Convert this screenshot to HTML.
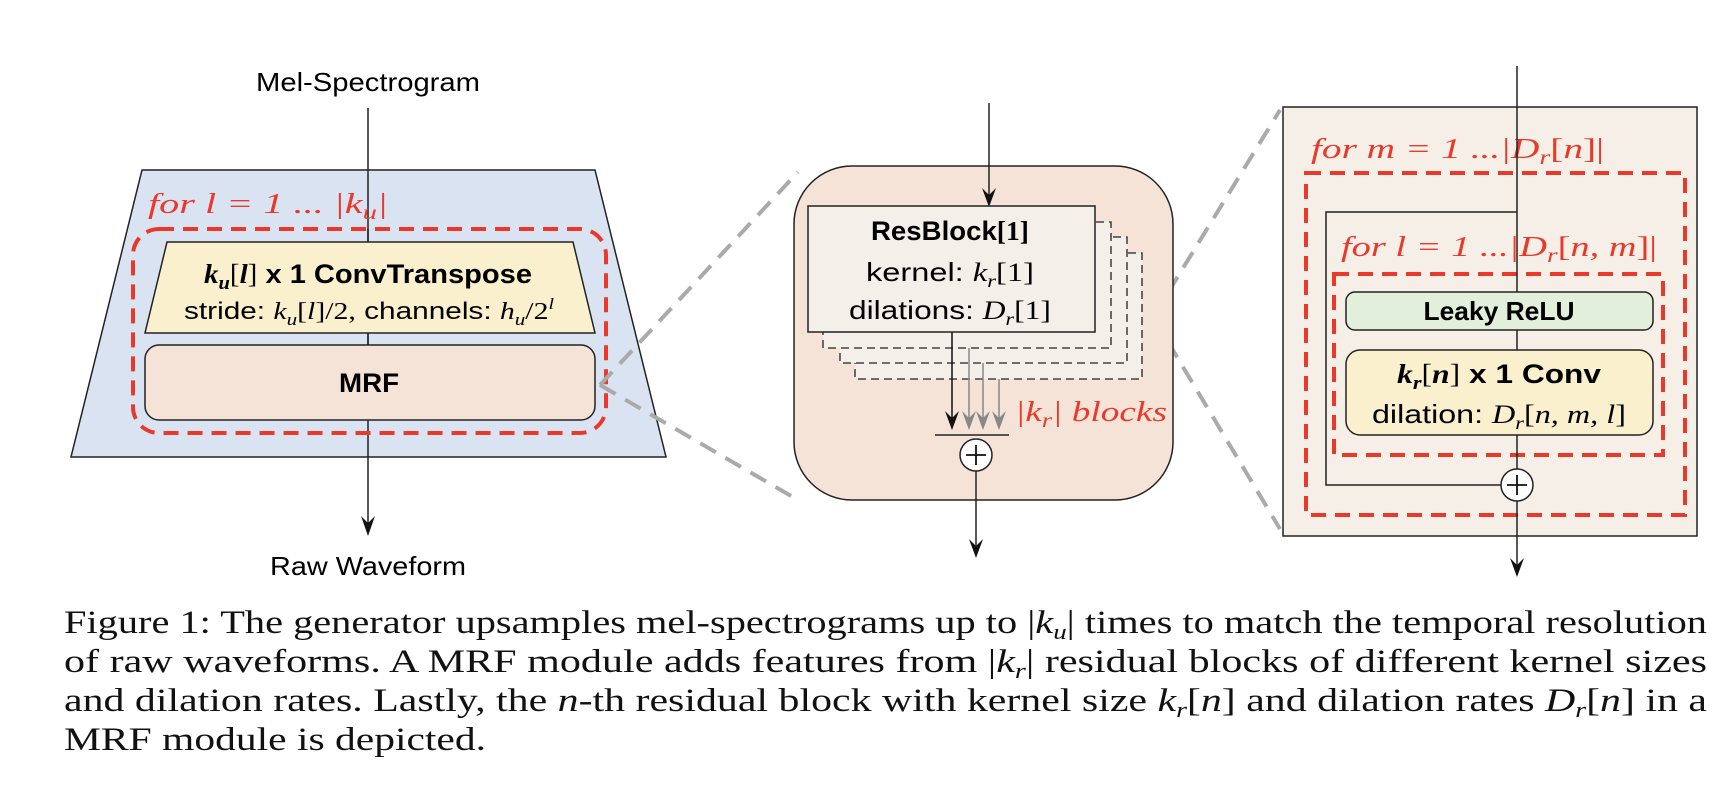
<!DOCTYPE html>
<html><head><meta charset="utf-8"><style>
html,body{margin:0;padding:0;background:#fff;}
svg{display:block;}
.s{font-family:"Liberation Sans",sans-serif;}
.m{font-family:"Liberation Serif",serif;font-style:italic;}
.r{font-family:"Liberation Serif",serif;}
</style></head><body>
<svg width="1732" height="792" viewBox="0 0 1732 792" xmlns="http://www.w3.org/2000/svg">
<defs>
<marker id="ab" viewBox="0 0 12 14" refX="6" refY="13" markerWidth="12" markerHeight="14" markerUnits="userSpaceOnUse" orient="auto-start-reverse">
</marker>
</defs>
<!-- LEFT PANEL -->
<polygon points="142,170 595,170 666,457 71,457" fill="#dae3f1" stroke="#222" stroke-width="1.5"/>
<line x1="368" y1="108" x2="368" y2="530" stroke="#222" stroke-width="1.5"/>
<path d="M361,516 L368,536 L375,516 L368,523 Z" fill="#111"/>
<text class="m" x="148" y="213" font-size="28" fill="#e8392b" textLength="240" lengthAdjust="spacingAndGlyphs">for  l = 1  ... |k<tspan font-size="20" dy="6">u</tspan><tspan dy="-6">|</tspan></text>
<rect x="133" y="229" width="473" height="204" rx="26" fill="none" stroke="#e8392b" stroke-width="4" stroke-dasharray="15 9"/>
<polygon points="167,242 573,242 595,333 145,333" fill="#fbf0cd" stroke="#222" stroke-width="1.5"/>
<line x1="368" y1="229" x2="368" y2="242" stroke="#222" stroke-width="1.5"/>
<line x1="368" y1="333" x2="368" y2="345" stroke="#222" stroke-width="1.5"/>
<text x="368" y="283" text-anchor="middle" font-size="27" font-weight="bold" textLength="328" lengthAdjust="spacingAndGlyphs"><tspan class="m">k</tspan><tspan class="m" font-size="19" dy="6">u</tspan><tspan class="r" dy="-6" font-weight="normal">[</tspan><tspan class="m">l</tspan><tspan class="r" font-weight="normal">]</tspan><tspan class="s"> x 1  ConvTranspose</tspan></text>
<text x="369" y="319" text-anchor="middle" font-size="24" textLength="370" lengthAdjust="spacingAndGlyphs"><tspan class="s">stride: </tspan><tspan class="m">k</tspan><tspan class="m" font-size="17" dy="6">u</tspan><tspan class="r" dy="-6">[</tspan><tspan class="m">l</tspan><tspan class="r">]/2,</tspan><tspan class="s"> channels: </tspan><tspan class="m">h</tspan><tspan class="m" font-size="17" dy="6">u</tspan><tspan class="r" dy="-6">/2</tspan><tspan class="m" font-size="16" dy="-10">l</tspan></text>
<rect x="145" y="345" width="450" height="75" rx="14" fill="#f5e3d7" stroke="#222" stroke-width="1.5"/>
<text class="s" x="369" y="392" text-anchor="middle" font-size="27" font-weight="bold" textLength="60" lengthAdjust="spacingAndGlyphs">MRF</text>
<text class="s" x="368" y="91" text-anchor="middle" font-size="26" textLength="224" lengthAdjust="spacingAndGlyphs">Mel-Spectrogram</text>
<text class="s" x="368" y="575" text-anchor="middle" font-size="26" textLength="196" lengthAdjust="spacingAndGlyphs">Raw Waveform</text>
<!-- gray zoom lines -->
<g stroke="#aaa" stroke-width="4" stroke-dasharray="18 11" fill="none">
<line x1="600" y1="385" x2="798" y2="172"/>
<line x1="600" y1="385" x2="798" y2="500"/>
<line x1="1153" y1="317" x2="1280" y2="110"/>
<line x1="1153" y1="317" x2="1280" y2="529"/>
</g>
<!-- MIDDLE PANEL -->
<rect x="794" y="166" width="379" height="334" rx="58" fill="#f5e3d7" stroke="#222" stroke-width="1.5"/>
<line x1="989" y1="103" x2="989" y2="200" stroke="#222" stroke-width="1.5"/>
<path d="M982,188 L989,207 L996,188 L989,195 Z" fill="#111"/>
<g fill="#f5efea" stroke="#222" stroke-width="1.3" stroke-dasharray="8 5">
<rect x="855" y="253" width="287" height="126"/>
<rect x="840" y="237" width="287" height="126"/>
<rect x="823" y="222" width="288" height="126"/>
</g>
<rect x="808" y="206" width="287" height="126" fill="#f5efea" stroke="#222" stroke-width="1.5"/>
<text x="950" y="240" text-anchor="middle" font-size="27" font-weight="bold" textLength="158" lengthAdjust="spacingAndGlyphs"><tspan class="s">ResBlock</tspan><tspan class="r">[1]</tspan></text>
<text x="950" y="281" text-anchor="middle" font-size="26" textLength="168" lengthAdjust="spacingAndGlyphs"><tspan class="s">kernel: </tspan><tspan class="m">k</tspan><tspan class="m" font-size="18" dy="6">r</tspan><tspan class="r" dy="-6">[1]</tspan></text>
<text x="950" y="319" text-anchor="middle" font-size="26" textLength="202" lengthAdjust="spacingAndGlyphs"><tspan class="s">dilations: </tspan><tspan class="m">D</tspan><tspan class="m" font-size="18" dy="6">r</tspan><tspan class="r" dy="-6">[1]</tspan></text>
<g stroke="#888" stroke-width="1.5">
<line x1="969" y1="348" x2="969" y2="422"/>
<line x1="983" y1="363" x2="983" y2="422"/>
<line x1="999" y1="379" x2="999" y2="422"/>
</g>
<path d="M962,411 L969,430 L976,411 L969,418 Z M976,411 L983,430 L990,411 L983,418 Z M992,411 L999,430 L1006,411 L999,418 Z" fill="#888"/>
<line x1="952" y1="332" x2="952" y2="422" stroke="#111" stroke-width="1.5"/>
<path d="M945,411 L952,430 L959,411 L952,418 Z" fill="#111"/>
<line x1="935" y1="435" x2="1009" y2="435" stroke="#222" stroke-width="1.5"/>
<circle cx="976" cy="455" r="16" fill="#fff" stroke="#222" stroke-width="1.5"/>
<path d="M966,455 H986 M976,445 V465" stroke="#111" stroke-width="1.8"/>
<line x1="976" y1="471" x2="976" y2="552" stroke="#222" stroke-width="1.5"/>
<path d="M969,539 L976,558 L983,539 L976,546 Z" fill="#111"/>
<text class="m" x="1015" y="421" font-size="28" fill="#e8392b" textLength="152" lengthAdjust="spacingAndGlyphs">|k<tspan font-size="20" dy="6">r</tspan><tspan dy="-6">| blocks</tspan></text>
<!-- RIGHT PANEL -->
<rect x="1283" y="107" width="414" height="429" fill="#f6efe8" stroke="#222" stroke-width="1.5"/>
<text class="m" x="1311" y="158" font-size="28" fill="#e8392b" textLength="293" lengthAdjust="spacingAndGlyphs">for  m = 1  ...|D<tspan font-size="20" dy="6">r</tspan><tspan dy="-6" class="r" font-style="normal">[</tspan>n<tspan class="r" font-style="normal">]|</tspan></text>
<rect x="1306" y="173" width="379" height="342" fill="none" stroke="#e8392b" stroke-width="4" stroke-dasharray="15 9"/>
<polyline points="1517,212 1326,212 1326,485 1501,485" fill="none" stroke="#222" stroke-width="1.5"/>
<text class="m" x="1341" y="256" font-size="28" fill="#e8392b" textLength="316" lengthAdjust="spacingAndGlyphs">for  l = 1  ...|D<tspan font-size="20" dy="6">r</tspan><tspan dy="-6" class="r" font-style="normal">[</tspan>n, m<tspan class="r" font-style="normal">]|</tspan></text>
<rect x="1334" y="274" width="329" height="181" fill="none" stroke="#e8392b" stroke-width="4" stroke-dasharray="15 9"/>
<line x1="1517" y1="66" x2="1517" y2="570" stroke="#222" stroke-width="1.5"/>
<rect x="1346" y="292" width="307" height="38" rx="9" fill="#e2efda" stroke="#222" stroke-width="1.5"/>
<text class="s" x="1499" y="320" text-anchor="middle" font-size="26" font-weight="bold" textLength="151" lengthAdjust="spacingAndGlyphs">Leaky ReLU</text>
<rect x="1346" y="350" width="307" height="85" rx="14" fill="#fbf0cd" stroke="#222" stroke-width="1.5"/>
<text x="1499" y="383" text-anchor="middle" font-size="27" font-weight="bold" textLength="204" lengthAdjust="spacingAndGlyphs"><tspan class="m">k</tspan><tspan class="m" font-size="19" dy="6">r</tspan><tspan class="r" dy="-6" font-weight="normal">[</tspan><tspan class="m">n</tspan><tspan class="r" font-weight="normal">]</tspan><tspan class="s"> x 1  Conv</tspan></text>
<text x="1499" y="423" text-anchor="middle" font-size="26" textLength="254" lengthAdjust="spacingAndGlyphs"><tspan class="s">dilation: </tspan><tspan class="m">D</tspan><tspan class="m" font-size="18" dy="6">r</tspan><tspan class="r" dy="-6">[</tspan><tspan class="m">n, m, l</tspan><tspan class="r">]</tspan></text>
<circle cx="1517" cy="485" r="16" fill="#fff" stroke="#222" stroke-width="1.5"/>
<path d="M1507,485 H1527 M1517,475 V495" stroke="#111" stroke-width="1.8"/>
<path d="M1510,558 L1517,577 L1524,558 L1517,565 Z" fill="#111"/>
<!-- CAPTION -->
<g class="r" font-size="33" fill="#111">
<text x="64" y="633" textLength="1643" lengthAdjust="spacingAndGlyphs">Figure 1: The generator upsamples mel-spectrograms up to |<tspan class="m">k</tspan><tspan class="m" font-size="22" dy="6">u</tspan><tspan dy="-6">| times to match the temporal resolution</tspan></text>
<text x="64" y="672" textLength="1643" lengthAdjust="spacingAndGlyphs">of raw waveforms. A MRF module adds features from |<tspan class="m">k</tspan><tspan class="m" font-size="22" dy="6">r</tspan><tspan dy="-6">| residual blocks of different kernel sizes</tspan></text>
<text x="64" y="711" textLength="1643" lengthAdjust="spacingAndGlyphs">and dilation rates. Lastly, the <tspan class="m">n</tspan>-th residual block with kernel size <tspan class="m">k</tspan><tspan class="m" font-size="22" dy="6">r</tspan><tspan dy="-6">[</tspan><tspan class="m">n</tspan>] and dilation rates <tspan class="m">D</tspan><tspan class="m" font-size="22" dy="6">r</tspan><tspan dy="-6">[</tspan><tspan class="m">n</tspan>] in a</text>
<text x="64" y="750" textLength="422" lengthAdjust="spacingAndGlyphs">MRF module is depicted.</text>
</g>
</svg>
</body></html>
